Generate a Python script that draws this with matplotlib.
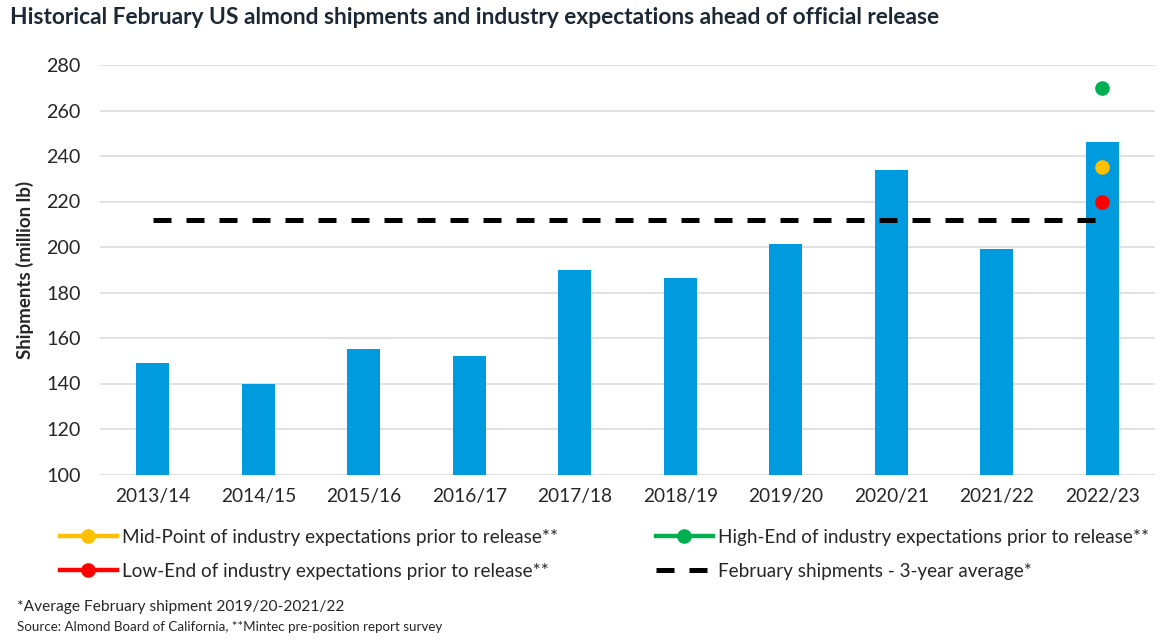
import matplotlib
matplotlib.use("Agg")
import matplotlib.pyplot as plt
from matplotlib.lines import Line2D
import numpy as np

# data
seasons = ["2013/14", "2014/15", "2015/16", "2016/17", "2017/18",
           "2018/19", "2019/20", "2020/21", "2021/22", "2022/23"]
shipments = [149, 140, 155, 152, 190, 186.5, 201.5, 234, 199, 246]
avg_3yr = 212
expect_season = "2022/23"
expect_high = 270
expect_mid = 235
expect_low = 220

blue = "#009ADE"
green = "#00B050"
yellow = "#FFC000"
red = "#FF0000"
text_col = "#262626"

plt.rcParams["font.family"] = ["Lato", "DejaVu Sans"]

W, H = 1167, 641
fig = plt.figure(figsize=(W / 100, H / 100), dpi=100)
ax = fig.add_axes([100 / W, 1 - 474.5 / H, 1055 / W, 409.5 / H])

x = np.arange(len(seasons))
ax.bar(x, shipments, width=0.31, color=blue, zorder=2)
ax.plot([x[0], x[-1]], [avg_3yr, avg_3yr], color="black", lw=3.6,
        dashes=(3.6, 3.0), zorder=3)

xe = seasons.index(expect_season)
ax.plot([xe], [expect_high], "o", color=green, ms=9.5, zorder=4)
ax.plot([xe], [expect_mid], "o", color=yellow, ms=9.5, zorder=4)
ax.plot([xe], [expect_low], "o", color=red, ms=9.5, zorder=4)

ax.set_xlim(-0.5, len(seasons) - 0.5)
ax.set_ylim(100, 280)
ax.set_yticks(np.arange(100, 281, 20))
ax.set_xticks(x)
ax.set_xticklabels(seasons)
ax.grid(axis="y", color="#D9D9D9", lw=1.1, zorder=0)
ax.set_axisbelow(True)
for s in ax.spines.values():
    s.set_visible(False)
ax.tick_params(length=0, labelsize=13.8, colors=text_col)
ax.tick_params(axis="y", labelsize=14.2, pad=14)
ax.tick_params(axis="x", pad=10)
ax.set_ylabel("Shipments (million lb)", fontsize=13.5, fontweight="bold",
              color=text_col, labelpad=9)

fig.text(10 / W, 1 - 18 / H,
         "Historical February US almond shipments and industry expectations ahead of official release",
         fontsize=16.4, fontweight="bold", color="#1C2833", va="center", ha="left")


def handle(c):
    return Line2D([], [], color=c, lw=3.2, marker="o", ms=9.5)


leg_kw = dict(frameon=False, fontsize=13.6, handlelength=3.0, handletextpad=0.3,
              labelspacing=0.9, borderpad=0, borderaxespad=0, loc="upper left")
leg1 = fig.legend([handle(yellow), handle(red)],
                  ["Mid-Point of industry expectations prior to release**",
                   "Low-End of industry expectations prior to release**"],
                  bbox_to_anchor=(60 / W, 1 - 529 / H), **leg_kw)
leg2 = fig.legend([handle(green),
                   Line2D([], [], color="black", lw=3.6, dashes=(3.6, 3.0))],
                  ["High-End of industry expectations prior to release**",
                   "February shipments - 3-year average*"],
                  bbox_to_anchor=(656 / W, 1 - 529 / H), **leg_kw)
for lg in (leg1, leg2):
    for t in lg.get_texts():
        t.set_color(text_col)

fig.text(17 / W, 1 - 607 / H, "*Average February shipment 2019/20-2021/22",
         fontsize=11.2, color=text_col, va="center")
fig.text(17 / W, 1 - 627 / H,
         "Source: Almond Board of California, **Mintec pre-position report survey",
         fontsize=9.6, color=text_col, va="center")

fig.savefig("out.png", dpi=100)
